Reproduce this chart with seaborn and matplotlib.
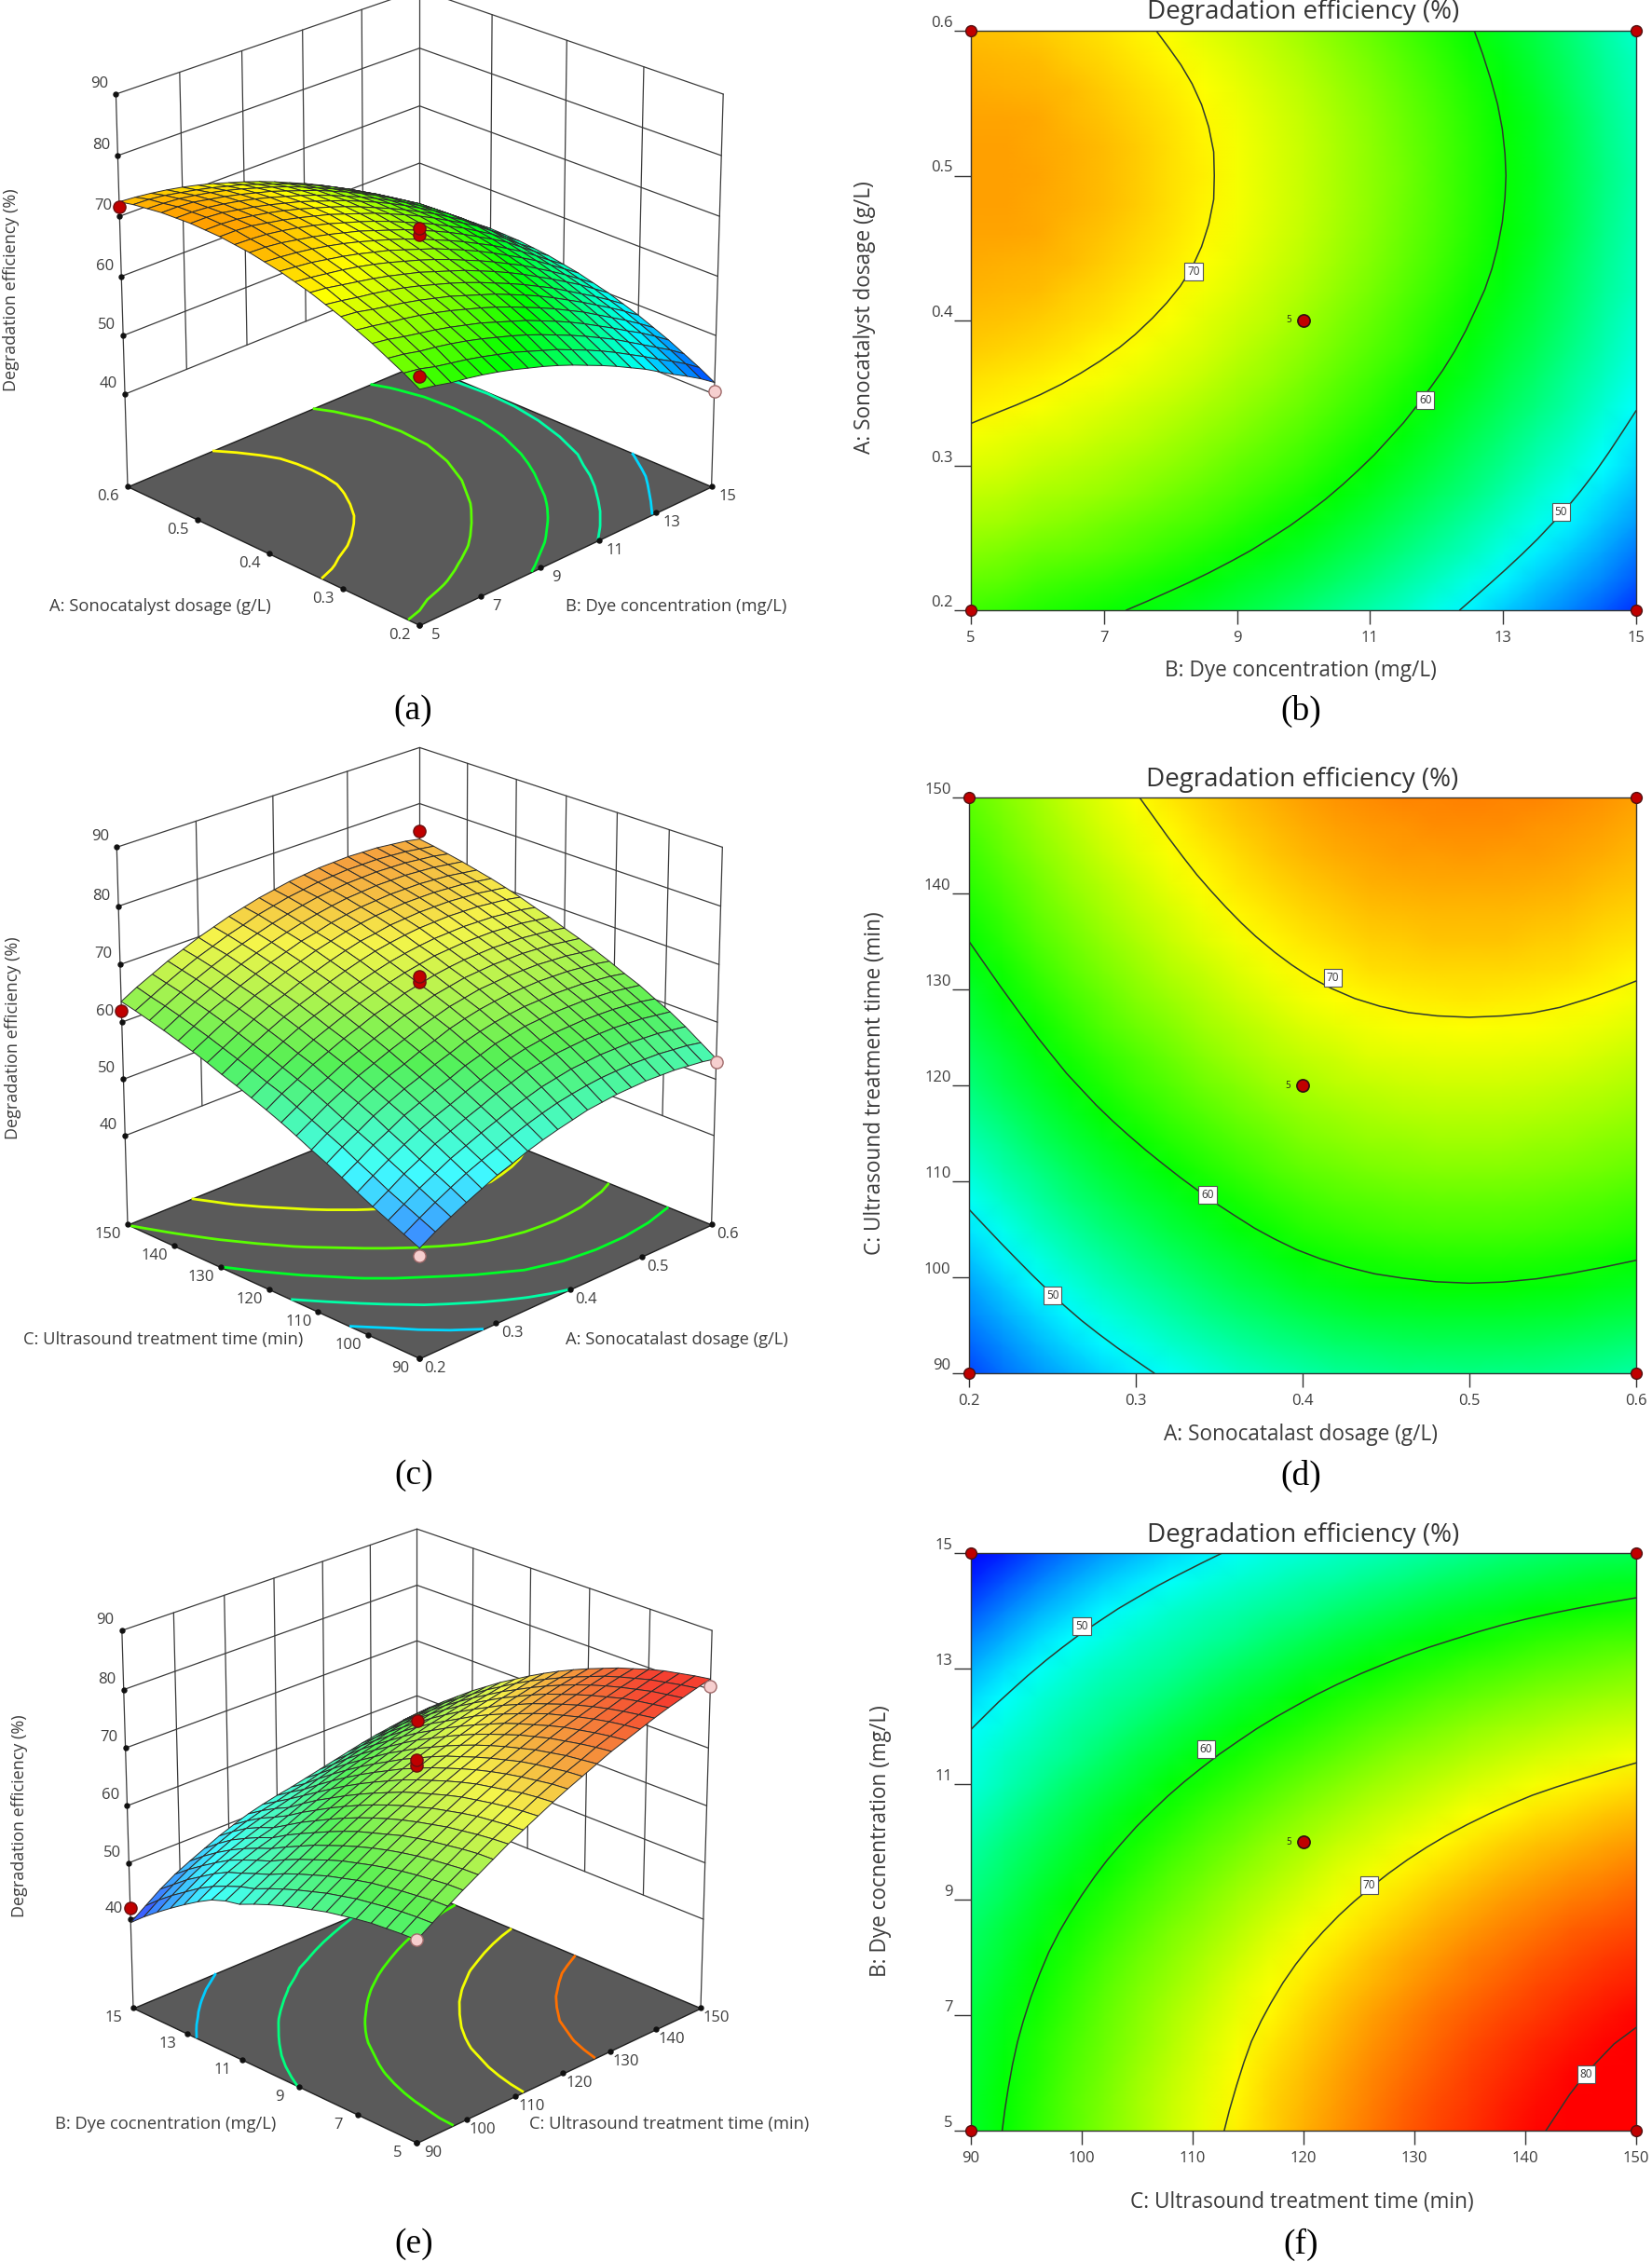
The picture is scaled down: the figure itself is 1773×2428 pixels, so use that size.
import numpy as np
import matplotlib
matplotlib.use('Agg')
import matplotlib.pyplot as plt
from matplotlib.colors import LinearSegmentedColormap, Normalize
from mpl_toolkits.mplot3d import proj3d
from mpl_toolkits.mplot3d.art3d import Poly3DCollection
import seaborn as sns

# Response values, rows = y factor, columns = x factor (21 x 21)
# rows A 0.2 -> 0.6, columns B 5 -> 15
Z_AB = [
    [62.4,61.9,61.3,60.9,60.4,59.8,59.1,58.3,57.5,56.6,55.6,54.5,53.4,52.2,50.9,49.6,48.1,46.6,45.2,43.7,42.0],
    [63.9,63.5,62.8,62.3,61.8,61.2,60.5,59.8,58.9,58.0,57.1,56.0,54.9,53.7,52.4,51.0,49.6,48.1,46.7,45.2,43.5],
    [65.2,64.8,64.2,63.8,63.3,62.7,62.0,61.2,60.4,59.5,58.5,57.4,56.3,55.1,53.8,52.5,51.0,49.5,48.0,46.5,44.8],
    [66.5,66.1,65.5,65.0,64.5,63.9,63.2,62.5,61.6,60.7,59.8,58.7,57.6,56.4,55.1,53.7,52.3,50.8,49.4,47.8,46.1],
    [67.6,67.2,66.7,66.3,65.8,65.2,64.5,63.7,62.9,62.0,61.0,59.9,58.8,57.6,56.3,55.0,53.5,52.0,50.5,48.9,47.2],
    [68.7,68.4,67.8,67.3,66.8,66.2,65.5,64.8,63.9,63.0,62.1,61.0,59.9,58.7,57.4,56.0,54.6,53.1,51.6,50.0,48.3],
    [69.6,69.2,68.7,68.3,67.8,67.2,66.5,65.7,64.9,64.0,63.0,61.9,60.8,59.6,58.3,57.0,55.5,54.0,52.5,50.9,49.2],
    [70.5,70.2,69.7,69.2,68.7,68.1,67.4,66.7,65.8,64.9,64.0,62.9,61.8,60.6,59.3,57.9,56.5,55.0,53.5,51.8,50.1],
    [71.2,70.9,70.5,70.1,69.6,69.0,68.3,67.5,66.7,65.8,64.8,63.7,62.6,61.4,60.1,58.8,57.3,55.8,54.2,52.5,50.8],
    [71.9,71.6,71.3,70.8,70.3,69.7,69.0,68.3,67.4,66.5,65.6,64.5,63.4,62.2,60.9,59.5,58.1,56.6,54.9,53.2,51.5],
    [72.4,72.2,71.9,71.5,71.0,70.4,69.7,68.9,68.1,67.2,66.2,65.1,64.0,62.8,61.5,60.2,58.7,57.2,55.5,53.7,52.0],
    [72.9,72.8,72.5,72.0,71.5,70.9,70.2,69.5,68.6,67.7,66.8,65.7,64.6,63.4,62.1,60.7,59.3,57.8,56.0,54.2,52.5],
    [73.2,73.1,72.9,72.5,72.0,71.4,70.7,69.9,69.1,68.2,67.2,66.1,65.0,63.8,62.5,61.2,59.7,58.2,56.4,54.5,52.8],
    [73.5,73.5,73.3,72.8,72.3,71.7,71.0,70.3,69.4,68.5,67.6,66.5,65.4,64.2,62.9,61.5,60.1,58.6,56.8,54.8,53.1],
    [73.6,73.6,73.4,73.0,72.5,71.9,71.2,70.4,69.6,68.7,67.7,66.6,65.5,64.3,63.0,61.7,60.2,58.7,56.9,54.9,53.2],
    [73.7,73.7,73.5,73.0,72.5,71.9,71.2,70.5,69.6,68.7,67.8,66.7,65.6,64.4,63.1,61.7,60.3,58.8,57.0,55.0,53.3],
    [73.6,73.6,73.4,73.0,72.5,71.9,71.2,70.4,69.6,68.7,67.7,66.6,65.5,64.3,63.0,61.7,60.2,58.7,56.9,54.9,53.2],
    [73.5,73.5,73.3,72.8,72.3,71.7,71.0,70.3,69.4,68.5,67.6,66.5,65.4,64.2,62.9,61.5,60.1,58.6,56.8,54.8,53.1],
    [73.2,73.1,72.9,72.5,72.0,71.4,70.7,69.9,69.1,68.2,67.2,66.1,65.0,63.8,62.5,61.2,59.7,58.2,56.4,54.5,52.8],
    [72.9,72.8,72.5,72.0,71.5,70.9,70.2,69.5,68.6,67.7,66.8,65.7,64.6,63.4,62.1,60.7,59.3,57.8,56.0,54.2,52.5],
    [72.4,72.2,71.9,71.5,71.0,70.4,69.7,68.9,68.1,67.2,66.2,65.1,64.0,62.8,61.5,60.2,58.7,57.2,55.5,53.7,52.0],
]
# rows C 90 -> 150, columns A 0.2 -> 0.6
Z_AC = [
    [42.8,44.4,45.8,47.1,48.3,49.5,50.4,51.4,52.2,52.9,53.5,54.1,54.4,54.7,54.8,54.9,54.8,54.7,54.4,54.1,53.6],
    [44.0,45.6,47.1,48.5,49.8,50.9,51.9,52.9,53.8,54.6,55.3,55.8,56.2,56.5,56.6,56.7,56.6,56.5,56.2,55.9,55.4],
    [45.2,46.8,48.4,49.8,51.2,52.3,53.4,54.4,55.4,56.2,57.0,57.5,58.0,58.2,58.4,58.4,58.4,58.2,58.0,57.6,57.2],
    [46.4,48.0,49.7,51.1,52.6,53.7,54.8,55.8,56.9,57.7,58.6,59.1,59.6,59.8,60.0,60.0,60.0,59.8,59.6,59.2,58.8],
    [47.7,49.4,51.0,52.5,53.9,55.1,56.1,57.2,58.2,59.1,59.9,60.5,60.9,61.2,61.3,61.4,61.3,61.2,60.9,60.6,60.1],
    [49.1,50.7,52.4,53.8,55.3,56.4,57.5,58.5,59.6,60.4,61.3,61.8,62.3,62.5,62.7,62.7,62.7,62.5,62.3,61.9,61.5],
    [50.4,52.1,53.6,55.2,56.5,57.7,58.7,59.8,60.7,61.7,62.4,63.0,63.4,63.7,63.8,63.9,63.8,63.7,63.4,63.1,62.6],
    [51.6,53.3,54.8,56.4,57.7,58.9,59.9,61.0,61.9,62.9,63.6,64.2,64.6,64.9,65.0,65.1,65.0,64.9,64.6,64.3,63.8],
    [52.9,54.5,56.1,57.5,58.9,60.0,61.1,62.1,63.1,63.9,64.7,65.2,65.7,65.9,66.1,66.1,66.1,65.9,65.7,65.3,64.9],
    [54.1,55.7,57.3,58.6,60.0,61.1,62.2,63.2,64.2,64.9,65.7,66.2,66.7,66.9,67.1,67.1,67.1,66.9,66.7,66.3,65.9],
    [55.2,56.9,58.3,59.8,61.0,62.2,63.2,64.3,65.1,66.0,66.6,67.2,67.6,67.9,68.0,68.1,68.0,67.9,67.6,67.3,66.8],
    [56.2,57.8,59.3,60.7,62.0,63.1,64.2,65.2,66.1,66.9,67.6,68.1,68.6,68.8,69.0,69.0,69.0,68.8,68.6,68.2,67.8],
    [57.2,58.8,60.3,61.7,63.0,64.1,65.1,66.1,67.0,67.8,68.5,69.0,69.4,69.7,69.8,69.9,69.8,69.7,69.4,69.1,68.6],
    [58.1,59.7,61.2,62.6,63.9,65.0,66.0,67.0,67.9,68.7,69.4,69.9,70.3,70.6,70.7,70.8,70.7,70.6,70.3,70.0,69.5],
    [59.1,60.6,62.1,63.5,64.8,65.8,66.9,67.8,68.7,69.5,70.2,70.6,71.1,71.3,71.5,71.5,71.5,71.3,71.1,70.7,70.3],
    [60.0,61.5,63.0,64.3,65.6,66.6,67.7,68.6,69.5,70.2,70.9,71.4,71.8,72.0,72.2,72.2,72.2,72.0,71.8,71.4,71.0],
    [60.8,62.3,63.8,65.0,66.3,67.4,68.4,69.3,70.2,70.8,71.5,72.0,72.4,72.6,72.8,72.8,72.8,72.6,72.4,72.0,71.6],
    [61.6,63.1,64.5,65.8,67.0,68.1,69.1,70.0,70.8,71.5,72.1,72.6,73.0,73.2,73.4,73.4,73.4,73.2,73.0,72.6,72.2],
    [62.3,63.8,65.2,66.5,67.7,68.8,69.7,70.6,71.4,72.1,72.7,73.2,73.5,73.8,73.9,74.0,73.9,73.8,73.5,73.2,72.7],
    [63.0,64.4,65.8,67.1,68.3,69.3,70.3,71.1,72.0,72.6,73.2,73.6,74.0,74.2,74.4,74.4,74.4,74.2,74.0,73.6,73.2],
    [63.6,65.1,66.4,67.7,68.8,69.9,70.8,71.7,72.4,73.1,73.6,74.1,74.4,74.7,74.8,74.9,74.8,74.7,74.4,74.1,73.6],
]
# rows B 5 -> 15, columns C 90 -> 150
Z_CB = [
    [58.4,60.1,61.8,63.4,64.9,66.4,67.9,69.2,70.5,71.8,73.0,74.1,75.2,76.3,77.2,78.1,79.0,79.8,80.5,81.2,81.8],
    [58.3,60.0,61.7,63.3,64.8,66.3,67.7,69.0,70.3,71.6,72.8,73.9,74.9,76.0,76.9,77.8,78.6,79.4,80.1,80.8,81.4],
    [58.1,59.8,61.4,63.0,64.5,66.0,67.4,68.7,70.0,71.3,72.4,73.5,74.6,75.6,76.5,77.4,78.2,79.0,79.7,80.3,80.9],
    [57.9,59.5,61.1,62.7,64.2,65.6,67.0,68.4,69.6,70.8,72.0,73.1,74.1,75.1,76.0,76.9,77.7,78.5,79.1,79.8,80.4],
    [57.5,59.1,60.7,62.3,63.8,65.2,66.6,67.9,69.1,70.3,71.5,72.6,73.6,74.6,75.5,76.3,77.1,77.8,78.5,79.1,79.7],
    [57.0,58.7,60.3,61.8,63.3,64.7,66.0,67.3,68.6,69.8,70.9,71.9,72.9,73.9,74.8,75.6,76.4,77.1,77.8,78.4,78.9],
    [56.5,58.1,59.7,61.2,62.7,64.1,65.4,66.7,67.9,69.1,70.2,71.2,72.2,73.2,74.0,74.9,75.6,76.3,77.0,77.6,78.1],
    [55.8,57.5,59.0,60.5,62.0,63.3,64.7,65.9,67.1,68.3,69.4,70.4,71.4,72.3,73.2,74.0,74.7,75.4,76.1,76.6,77.1],
    [55.1,56.7,58.3,59.8,61.2,62.5,63.9,65.1,66.3,67.4,68.5,69.5,70.5,71.4,72.3,73.0,73.8,74.5,75.1,75.6,76.1],
    [54.3,55.9,57.4,58.9,60.3,61.7,63.0,64.2,65.4,66.5,67.6,68.6,69.5,70.4,71.2,72.0,72.7,73.4,74.0,74.5,75.0],
    [53.4,55.0,56.5,57.9,59.3,60.7,62.0,63.2,64.3,65.5,66.5,67.5,68.4,69.3,70.1,70.9,71.6,72.2,72.8,73.3,73.8],
    [52.4,54.0,55.5,56.9,58.3,59.6,60.9,62.1,63.2,64.3,65.4,66.3,67.2,68.1,68.9,69.7,70.3,71.0,71.5,72.1,72.5],
    [51.3,52.9,54.3,55.8,57.1,58.4,59.7,60.9,62.0,63.1,64.1,65.1,66.0,66.8,67.6,68.3,69.0,69.6,70.2,70.7,71.1],
    [50.8,52.2,53.4,54.5,55.9,57.2,58.4,59.6,60.7,61.8,62.8,63.7,64.6,65.5,66.2,66.9,67.6,68.2,68.7,69.2,69.6],
    [49.9,51.2,52.4,53.6,54.6,55.9,57.1,58.2,59.3,60.4,61.4,62.3,63.2,64.0,64.8,65.5,66.1,66.7,67.2,67.7,68.1],
    [48.5,50.1,51.5,52.6,53.6,54.4,55.6,56.8,57.9,58.9,59.9,60.8,61.6,62.4,63.2,63.9,64.5,65.1,65.6,66.0,66.4],
    [46.9,48.7,50.2,51.5,52.5,53.4,54.1,55.2,56.3,57.3,58.3,59.2,60.0,60.8,61.5,62.2,62.8,63.4,63.9,64.3,64.7],
    [45.2,47.0,48.6,50.0,51.2,52.2,53.1,53.9,54.6,55.7,56.6,57.5,58.3,59.1,59.8,60.4,61.0,61.6,62.1,62.5,62.8],
    [43.4,45.3,47.0,48.4,49.7,50.9,51.9,52.7,53.4,54.1,54.8,55.7,56.5,57.3,58.0,58.6,59.2,59.7,60.2,60.6,60.9],
    [41.5,43.4,45.1,46.7,48.0,49.2,50.3,51.2,52.0,52.6,53.3,53.8,54.6,55.3,56.0,56.7,57.2,57.7,58.2,58.6,58.9],
    [39.4,41.3,43.2,44.8,46.1,47.3,48.5,49.5,50.4,51.1,51.7,52.2,52.8,53.4,54.0,54.6,55.2,55.7,56.1,56.5,56.8],
]

A_RANGE = (0.2, 0.6)
B_RANGE = (5, 15)
C_RANGE = (90, 150)
A_TICKS = [0.2, 0.3, 0.4, 0.5, 0.6]
B_TICKS = [5, 7, 9, 11, 13, 15]
C_TICKS = [90, 100, 110, 120, 130, 140, 150]
Z_TICKS = [40, 50, 60, 70, 80, 90]
CONTOUR_LEVELS = [50, 60, 70, 80]

TITLE = 'Degradation efficiency (%)'
YLABEL_3D = 'Degradation efficiency (%)'

# design points drawn on the 3D plots: (x, y, z)
RED_A = [(5, 0.6, 71.5), (5, 0.2, 64.5), (10, 0.4, 67.0), (10, 0.4, 68.0)]
PINK_A = [(15, 0.2, 40.5)]
RED_C = [(0.2, 150, 62.0), (0.6, 150, 75.0), (0.4, 120, 67.0), (0.4, 120, 68.0)]
PINK_C = [(0.6, 90, 53.0), (0.2, 90, 41.5)]
RED_E = [(90, 15, 42.0), (150, 15, 55.5), (120, 10, 67.0), (120, 10, 68.0)]
PINK_E = [(150, 5, 80.5), (90, 5, 58.5)]

# contour label positions in factor units
LABELS_B = [(8.35, 0.434, '70'), (11.83, 0.345, '60'), (13.87, 0.268, '50')]
LABELS_D = [(0.418, 131.2, '70'), (0.343, 108.6, '60'), (0.25, 98.1, '50')]
LABELS_F = [(100, 13.74, '50'), (111.2, 11.6, '60'), (125.9, 9.25, '70'), (145.5, 5.98, '80')]

W, H = 1774, 2428
FLOOR_Z = 24
TOP_Z = 90
VMIN, VMAX = 40, 80

sns.set_theme(style='white')
plt.rcParams['font.family'] = ['Open Sans', 'DejaVu Sans']
TEXT_COL = '#3c3c3c'

CM = LinearSegmentedColormap.from_list('de', ['#0000ff', '#00ffff', '#00ff00', '#ffff00', '#ff0000'])
CM_LIGHT = LinearSegmentedColormap.from_list('de_l', ['#3a4aff', '#40ffff', '#55f055', '#f5f54a', '#f54030'])
NORM = Normalize(VMIN, VMAX)

fig = plt.figure(figsize=(W / 100, H / 100), dpi=100, facecolor='white')


def ptext(x, y, s, **kw):
    kw.setdefault('color', TEXT_COL)
    kw.setdefault('ha', 'center')
    kw.setdefault('va', 'center')
    fig.text(x / W, 1 - y / H, s, **kw)


def to_idx(v, rng):
    return (np.asarray(v, dtype=float) - rng[0]) / (rng[1] - rng[0]) * 20


def smooth_line(v, k=3):
    # only rounds off the corners of the drawn contour path, ends stay put
    if len(v) < 2 * k + 2:
        return v
    padded = np.r_[2 * v[0] - v[k:0:-1], v, 2 * v[-1] - v[-2:-k - 2:-1]]
    return np.convolve(padded, np.ones(2 * k + 1) / (2 * k + 1), mode='valid')


def contour_panel(box, Z, xr, yr, xticks, yticks, ytick_fmt, labels, title_y):
    x0, y0, x1, y1 = box
    ax = fig.add_axes([x0 / W, 1 - y1 / H, (x1 - x0) / W, (y1 - y0) / H])
    arr = np.array(Z)
    sns.heatmap(arr, ax=ax, cmap=CM, vmin=VMIN, vmax=VMAX, cbar=False, shading='gouraud',
                xticklabels=False, yticklabels=False)
    cs = ax.contour(arr, levels=CONTOUR_LEVELS)
    segs = [s for level in cs.allsegs for s in level]
    cs.remove()
    for s in segs:
        ax.plot(smooth_line(s[:, 0]), smooth_line(s[:, 1]), color='#2f3a2f', lw=1.1, zorder=3)
    ax.set_xlim(0, 20)
    ax.set_ylim(0, 20)
    for s in ax.spines.values():
        s.set_visible(True)
        s.set_color('#333333')
        s.set_linewidth(1.0)
    ax.set_xticks(to_idx(xticks, xr))
    ax.set_xticklabels([str(t) for t in xticks], fontsize=12, color=TEXT_COL)
    ax.set_yticks(to_idx(yticks, yr))
    ax.set_yticklabels([ytick_fmt % t for t in yticks], fontsize=12, color=TEXT_COL)
    for lab in ax.get_yticklabels():
        lab.set_va('bottom')
    ax.tick_params(axis='x', bottom=True, length=11, width=1, color='#333333', pad=5)
    ax.tick_params(axis='y', left=True, length=13, width=1, color='#333333', pad=1)
    for vx in xr:
        for vy in yr:
            ax.plot(to_idx(vx, xr), to_idx(vy, yr), 'o', ms=8.5, mfc='#c00000', mec='#501010',
                    mew=1, clip_on=False, zorder=6)
    ax.plot(10, 10, 'o', ms=9.5, mfc='#c00000', mec='#301010', mew=1.2, zorder=6)
    ax.annotate('5', (10, 10), xytext=(-16, 0), textcoords='offset pixels', fontsize=7,
                ha='center', va='center', color='#222222')
    for vx, vy, s in labels:
        ax.text(to_idx(vx, xr), to_idx(vy, yr), s, fontsize=8.5, ha='center', va='center', color='#333333',
                bbox=dict(fc='white', ec='#555555', lw=0.8, boxstyle='square,pad=0.25'), zorder=5)
    ptext((x0 + x1) / 2, title_y, TITLE, fontsize=20, color='#333333')
    return ax


def fit_axes(ax, corners, left_x, right_x, front_y):
    left, right, front = corners
    size = 700.0
    x0, y0 = 100.0, 100.0

    def measure():
        ax.set_position([x0 / W, y0 / H, size / W, size / H])
        ax.apply_aspect()
        M = ax.get_proj()
        out = []
        for c in (left, right, front):
            px, py, _ = proj3d.proj_transform(c[0], c[1], c[2], M)
            out.append(ax.transData.transform((px, py)))
        return out

    pts = measure()
    size = size * (right_x - left_x) / (pts[1][0] - pts[0][0])
    pts = measure()
    x0 += (left_x + right_x) / 2 - (pts[0][0] + pts[1][0]) / 2
    y0 += (H - front_y) - pts[2][1]
    measure()


def surface_panel(Z, xr, yr, xticks, yticks, xfmt, yfmt, levels, red, pink, fit, elev, zasp, focal, cmap):
    ax = fig.add_axes([0, 0, 0.2, 0.2], projection='3d', proj_type='persp', focal_length=focal,
                      computed_zorder=False)
    ax.set_axis_off()
    ax.patch.set_alpha(0)
    ax.set_xlim(*xr)
    ax.set_ylim(*yr)
    ax.set_zlim(FLOOR_Z, TOP_Z)
    ax.set_box_aspect((1, 1, zasp))
    ax.view_init(elev=elev, azim=-135)

    xa, xb = xr
    ya, yb = yr
    floor = Poly3DCollection([[(xa, ya, FLOOR_Z), (xb, ya, FLOOR_Z), (xb, yb, FLOOR_Z), (xa, yb, FLOOR_Z)]],
                             facecolor='#5a5a5a', edgecolor='#1f1f1f', linewidth=1.0, zorder=0)
    ax.add_collection3d(floor, autolim=False)

    line = dict(color='#3a3a3a', lw=0.9, zorder=1)
    # corner verticals
    for cx, cy in [(xa, yb), (xb, yb), (xb, ya)]:
        ax.plot([cx, cx], [cy, cy], [FLOOR_Z, TOP_Z], **line)
    # z gridlines on both walls
    for z in Z_TICKS:
        ax.plot([xa, xb], [yb, yb], [z, z], **line)
        ax.plot([xb, xb], [ya, yb], [z, z], **line)
    # inner verticals
    for t in xticks[1:-1]:
        ax.plot([t, t], [yb, yb], [Z_TICKS[0], TOP_Z], **line)
    for t in yticks[1:-1]:
        ax.plot([xb, xb], [t, t], [Z_TICKS[0], TOP_Z], **line)

    arr = np.array(Z)
    X, Y = np.meshgrid(np.linspace(xa, xb, arr.shape[1]), np.linspace(ya, yb, arr.shape[0]))
    ax.contour(X, Y, arr, levels=levels, zdir='z', offset=FLOOR_Z, cmap=CM, norm=NORM, linewidths=2.0, zorder=1.5)
    ax.plot_surface(X, Y, arr, cmap=cmap, norm=NORM, rstride=1, cstride=1, edgecolor='#2b2b2b', linewidth=0.7,
                    shade=False, antialiased=True, zorder=3)

    # tick dots
    dots = dict(ls='none', marker='o', ms=3.6, color='#111111', zorder=2)
    ax.plot(xticks, [ya] * len(xticks), [FLOOR_Z] * len(xticks), **dots)
    ax.plot([xa] * len(yticks), yticks, [FLOOR_Z] * len(yticks), **dots)
    ax.plot([xa] * len(Z_TICKS), [yb] * len(Z_TICKS), Z_TICKS, **dots)

    for p in red:
        ax.plot([p[0]], [p[1]], [p[2]], 'o', ms=9.5, mfc='#c00000', mec='#6a0f0f', mew=1, zorder=5)
    for p in pink:
        ax.plot([p[0]], [p[1]], [p[2]], 'o', ms=9.5, mfc='#f6cfcf', mec='#a06a6a', mew=1, zorder=5)

    fit_axes(ax, [(xa, yb, FLOOR_Z), (xb, ya, FLOOR_Z), (xa, ya, FLOOR_Z)], *fit)

    M = ax.get_proj()

    def tick_text(x, y, z, s, dx, dy):
        px, py, _ = proj3d.proj_transform(x, y, z, M)
        ax.annotate(s, (px, py), xytext=(dx, -dy), textcoords='offset pixels', fontsize=12, ha='center',
                    va='center', color=TEXT_COL, annotation_clip=False, zorder=8)

    for t in xticks:
        tick_text(t, ya, FLOOR_Z, xfmt % t, 17, 11)
    for t in yticks:
        tick_text(xa, t, FLOOR_Z, yfmt % t, -21, 11)
    for z in Z_TICKS:
        tick_text(xa, yb, z, str(z), -18, -11)
    return ax


# (a) / (b)
surface_panel(Z_AB, B_RANGE, A_RANGE, B_TICKS, A_TICKS, '%d', '%.1f', [48.5, 53.5, 58, 63.5, 70],
              RED_A, PINK_A, (137, 763.6, 671), 24, 1.02, 1.15, CM)
ptext(172, 651, 'A: Sonocatalyst dosage (g/L)', fontsize=13.2)
ptext(726, 651, 'B: Dye concentration (mg/L)', fontsize=13.2)
ptext(12, 311, YLABEL_3D, fontsize=13, rotation=90)
ptext(443, 763, '(a)', fontsize=27, family='Liberation Serif', color='black')

contour_panel((1042, 33, 1756, 655), Z_AB, B_RANGE, A_RANGE, B_TICKS, A_TICKS, '%.1f', LABELS_B, 13)
ptext(1396, 720, 'B: Dye concentration (mg/L)', fontsize=16.3)
ptext(928, 341, 'A: Sonocatalyst dosage (g/L)', fontsize=16.3, rotation=90)
ptext(1396, 763, '(b)', fontsize=27, family='Liberation Serif', color='black')

# (c) / (d)
surface_panel(Z_AC, A_RANGE, C_RANGE, A_TICKS, C_TICKS, '%.1f', '%d', [48.5, 53.5, 58.5, 63.5, 69],
              RED_C, PINK_C, (137, 763.6, 1458), 23, 0.975, 1.15, CM_LIGHT)
ptext(175, 1438, 'C: Ultrasound treatment time (min)', fontsize=13.2)
ptext(726, 1438, 'A: Sonocatalast dosage (g/L)', fontsize=13.2)
ptext(14, 1114, YLABEL_3D, fontsize=13, rotation=90)
ptext(444, 1584, '(c)', fontsize=27, family='Liberation Serif', color='black')

contour_panel((1040, 856, 1756, 1474), Z_AC, A_RANGE, C_RANGE, A_TICKS, C_TICKS, '%d', LABELS_D, 837)
ptext(1396, 1540, 'A: Sonocatalast dosage (g/L)', fontsize=16.3)
ptext(939, 1163, 'C: Ultrasound treatment time (min)', fontsize=16.3, rotation=90)
ptext(1396, 1584, '(d)', fontsize=27, family='Liberation Serif', color='black')

# (e) / (f)
surface_panel(Z_CB, C_RANGE, B_RANGE, C_TICKS, B_TICKS, '%d', '%d', [48, 55, 62.5, 69.5, 75.5],
              RED_E, PINK_E, (143, 752, 2300), 24, 1.01, 1.15, CM_LIGHT)
ptext(178, 2280, 'B: Dye cocnentration (mg/L)', fontsize=13.2)
ptext(718, 2280, 'C: Ultrasound treatment time (min)', fontsize=13.2)
ptext(21, 1949, YLABEL_3D, fontsize=13, rotation=90)
ptext(444, 2409, '(e)', fontsize=27, family='Liberation Serif', color='black')

contour_panel((1042, 1667, 1756, 2287), Z_CB, C_RANGE, B_RANGE, C_TICKS, B_TICKS, '%d', LABELS_F, 1648)
ptext(1397, 2364, 'C: Ultrasound treatment time (min)', fontsize=16.3)
ptext(945, 1976, 'B: Dye cocnentration (mg/L)', fontsize=16.3, rotation=90)
ptext(1396, 2409, '(f)', fontsize=27, family='Liberation Serif', color='black')

plt.savefig('out.png', dpi=100, facecolor='white')
